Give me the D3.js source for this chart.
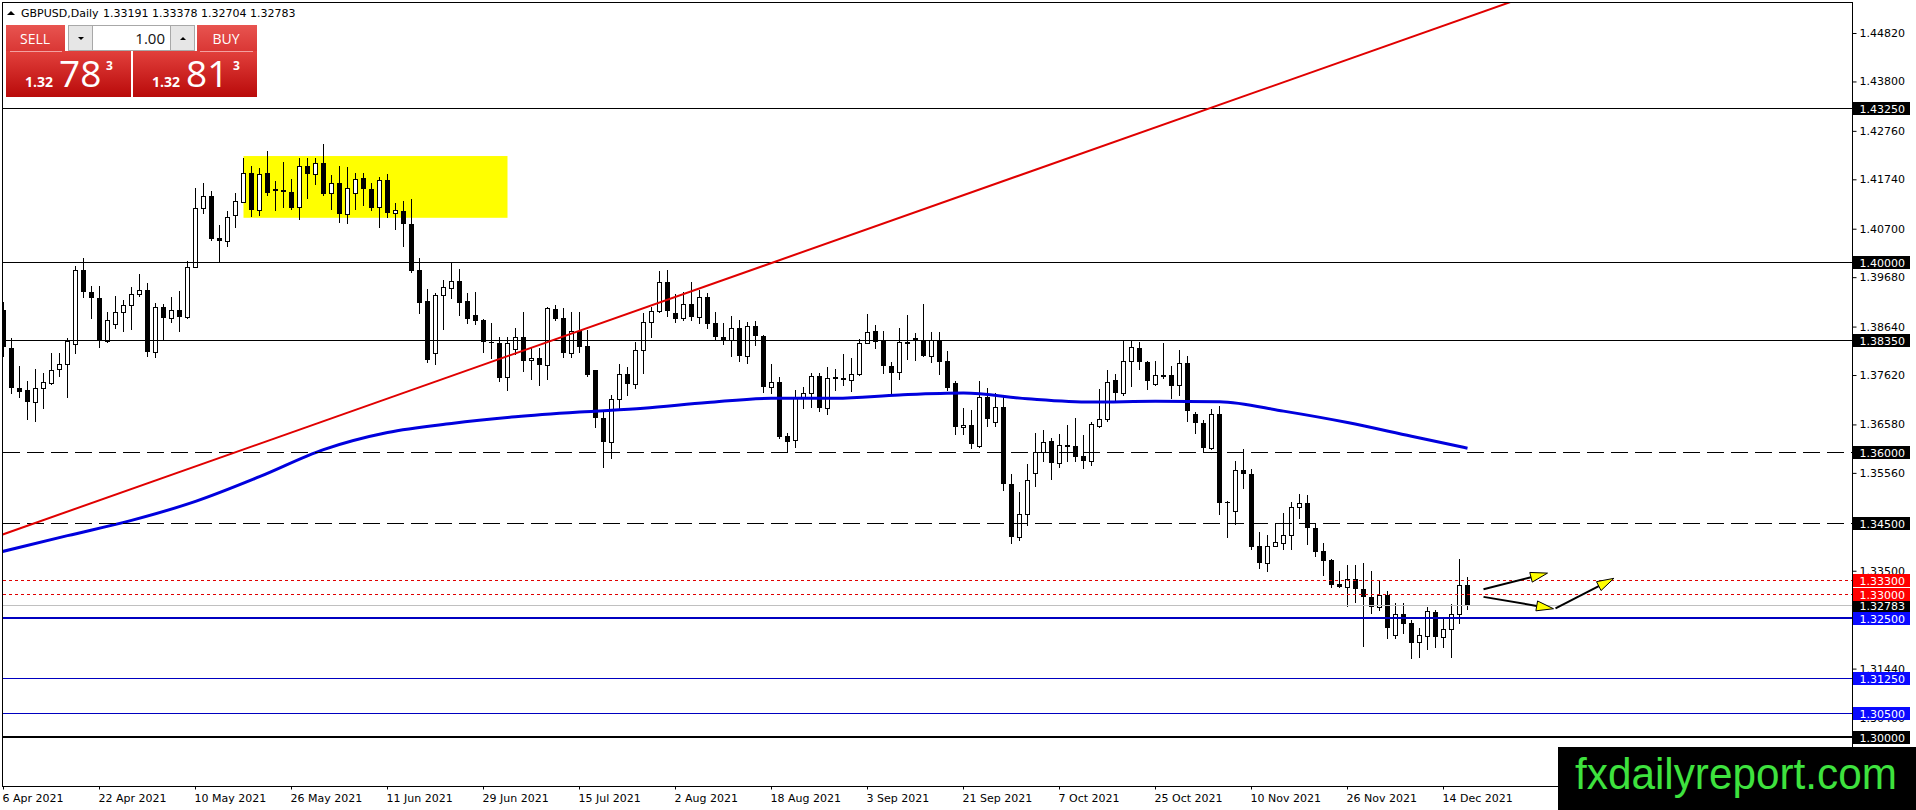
<!DOCTYPE html>
<html>
<head>
<meta charset="utf-8">
<script src="https://cdn.jsdelivr.net/npm/d3@7.9.0/dist/d3.min.js"></script>
<style>
  body { margin: 0; background: #fff; overflow: hidden; }
  svg { display: block; font-family: "DejaVu Sans", sans-serif; }
</style>
</head>
<body>
<svg id="chart" width="1916" height="810"></svg>
<script>
const symbol = "GBPUSD,Daily";

const opens = [
  1.3899, 1.3818, 1.3734, 1.3731, 1.3705, 1.3734, 1.3746, 1.3774, 1.3785, 1.3827,
  1.3983, 1.3936, 1.3924, 1.3834, 1.3869, 1.3894, 1.3909, 1.3932, 1.3940, 1.3810,
  1.3905, 1.3883, 1.3898, 1.3885, 1.3990, 1.4113, 1.4139, 1.4051, 1.4045, 1.4098,
  1.4127, 1.4187, 1.4110, 1.4187, 1.4153, 1.4152, 1.4148, 1.4115, 1.4202, 1.4185,
  1.4208, 1.4145, 1.4166, 1.4100, 1.4145, 1.4176, 1.4153, 1.4115, 1.4173, 1.4103,
  1.4107, 1.4079, 1.3983, 1.3918, 1.3808, 1.3931, 1.3945, 1.3960, 1.3918, 1.3888,
  1.3878, 1.3832, 1.3829, 1.3757, 1.3816, 1.3841, 1.3794, 1.3797, 1.3783, 1.3900,
  1.3881, 1.3808, 1.3855, 1.3823, 1.3773, 1.3671, 1.3622, 1.3711, 1.3764, 1.3743,
  1.3815, 1.3874, 1.3897, 1.3957, 1.3893, 1.3881, 1.3912, 1.3885, 1.3926, 1.3872,
  1.3841, 1.3836, 1.3860, 1.3803, 1.3865, 1.3844, 1.3737, 1.3748, 1.3634, 1.3625,
  1.3716, 1.3724, 1.3759, 1.3693, 1.3755, 1.3755, 1.3752, 1.3764, 1.3829, 1.3855,
  1.3834, 1.3781, 1.3768, 1.3832, 1.3839, 1.3836, 1.3803, 1.3836, 1.3792, 1.3745,
  1.3652, 1.3657, 1.3613, 1.3715, 1.3663, 1.3695, 1.3532, 1.3422, 1.3469, 1.3555,
  1.3601, 1.3623, 1.3577, 1.3615, 1.3613, 1.3592, 1.3582, 1.3655, 1.3669, 1.3752,
  1.3724, 1.3792, 1.3818, 1.3790, 1.3743, 1.3761, 1.3762, 1.3740, 1.3787, 1.3679,
  1.3662, 1.3609, 1.3681, 1.3495, 1.3476, 1.3562, 1.3553, 1.3402, 1.3367, 1.3403,
  1.3409, 1.3425, 1.3484, 1.3492, 1.3441, 1.3392, 1.3373, 1.3322, 1.3316, 1.3332,
  1.3311, 1.3295, 1.3274, 1.3299, 1.3215, 1.3258, 1.3239, 1.3199, 1.3213, 1.3263,
  1.3211, 1.3227, 1.3258, 1.33191
];
const highs = [
  1.3916, 1.3839, 1.3780, 1.3750, 1.3774, 1.3767, 1.3808, 1.3808, 1.3839, 1.3992,
  1.4008, 1.3949, 1.3949, 1.3894, 1.3928, 1.3920, 1.3948, 1.3974, 1.3955, 1.3913,
  1.3911, 1.3926, 1.3939, 1.4003, 1.4156, 1.4166, 1.4150, 1.4078, 1.4108, 1.4145,
  1.4218, 1.4201, 1.4197, 1.4234, 1.4171, 1.4211, 1.4174, 1.4218, 1.4218, 1.4218,
  1.4248, 1.4183, 1.4202, 1.4199, 1.4188, 1.4187, 1.4166, 1.4178, 1.4185, 1.4124,
  1.4128, 1.4132, 1.4009, 1.3943, 1.3934, 1.3962, 1.3999, 1.3985, 1.3934, 1.3937,
  1.3879, 1.3872, 1.3843, 1.3843, 1.3860, 1.3895, 1.3818, 1.3818, 1.3906, 1.3909,
  1.3904, 1.3895, 1.3895, 1.3857, 1.3773, 1.3687, 1.3721, 1.3785, 1.3778, 1.3832,
  1.3892, 1.3906, 1.3981, 1.3983, 1.3932, 1.3936, 1.3957, 1.3941, 1.3934, 1.3894,
  1.3871, 1.3886, 1.3878, 1.3874, 1.3876, 1.3846, 1.3785, 1.3757, 1.3639, 1.3731,
  1.3737, 1.3767, 1.3767, 1.3778, 1.3775, 1.3806, 1.3797, 1.3837, 1.3890, 1.3867,
  1.3855, 1.3789, 1.3860, 1.3888, 1.3851, 1.3912, 1.3852, 1.3852, 1.3813, 1.3750,
  1.3693, 1.3688, 1.3750, 1.3734, 1.3724, 1.3720, 1.3554, 1.3516, 1.3575, 1.3639,
  1.3646, 1.3629, 1.3637, 1.3657, 1.3671, 1.3636, 1.3664, 1.3732, 1.3773, 1.3764,
  1.3836, 1.3836, 1.3832, 1.3792, 1.3792, 1.3830, 1.3781, 1.3815, 1.3802, 1.3685,
  1.3667, 1.3690, 1.3697, 1.3497, 1.3580, 1.3606, 1.3564, 1.3431, 1.3425, 1.3450,
  1.3471, 1.3494, 1.3511, 1.3509, 1.3451, 1.3408, 1.3375, 1.3350, 1.3362, 1.3362,
  1.3367, 1.3349, 1.3331, 1.3308, 1.3283, 1.3283, 1.3246, 1.3229, 1.3274, 1.3267,
  1.3252, 1.3280, 1.3375, 1.33378
];
const lows = [
  1.3801, 1.3724, 1.3716, 1.3669, 1.3666, 1.3692, 1.3743, 1.3759, 1.3715, 1.3809,
  1.3926, 1.3883, 1.3822, 1.3832, 1.3862, 1.3855, 1.3859, 1.3929, 1.3801, 1.3799,
  1.3836, 1.3874, 1.3855, 1.3883, 1.3990, 1.4103, 1.4047, 1.4003, 1.4034, 1.4074,
  1.4127, 1.4097, 1.4099, 1.4141, 1.4110, 1.4115, 1.4111, 1.4090, 1.4134, 1.4164,
  1.4141, 1.4111, 1.4085, 1.4081, 1.4111, 1.4120, 1.4109, 1.4073, 1.4094, 1.4069,
  1.4034, 1.3979, 1.3893, 1.3789, 1.3785, 1.3858, 1.3924, 1.3888, 1.3871, 1.3869,
  1.3811, 1.3797, 1.3749, 1.3731, 1.3806, 1.3771, 1.3754, 1.3741, 1.3754, 1.3878,
  1.3799, 1.3799, 1.3811, 1.3759, 1.3653, 1.3569, 1.3588, 1.3690, 1.3720, 1.3734,
  1.3766, 1.3843, 1.3895, 1.3887, 1.3874, 1.3878, 1.3878, 1.3871, 1.3860, 1.3838,
  1.3827, 1.3801, 1.3792, 1.3788, 1.3825, 1.3727, 1.3725, 1.3629, 1.3599, 1.3611,
  1.3692, 1.3695, 1.3687, 1.3679, 1.3731, 1.3740, 1.3729, 1.3763, 1.3829, 1.3818,
  1.3766, 1.3724, 1.3753, 1.3795, 1.3794, 1.3801, 1.3790, 1.3764, 1.3731, 1.3638,
  1.3638, 1.3608, 1.3611, 1.3655, 1.3655, 1.3519, 1.3409, 1.3415, 1.3446, 1.3529,
  1.3581, 1.3543, 1.3569, 1.3581, 1.3580, 1.3567, 1.3573, 1.3652, 1.3666, 1.3709,
  1.3719, 1.3739, 1.3774, 1.3733, 1.3740, 1.3755, 1.3713, 1.3720, 1.3666, 1.3641,
  1.3602, 1.3606, 1.3469, 1.3422, 1.3448, 1.3524, 1.3396, 1.3356, 1.3350, 1.3403,
  1.3395, 1.3395, 1.3462, 1.3406, 1.3382, 1.3340, 1.3316, 1.3315, 1.3276, 1.3285,
  1.3192, 1.3260, 1.3267, 1.3208, 1.3208, 1.3218, 1.3167, 1.3169, 1.3185, 1.3190,
  1.3189, 1.3169, 1.3240, 1.32704
];
const closes = [
  1.3822, 1.3734, 1.3727, 1.3705, 1.3734, 1.3747, 1.3773, 1.3785, 1.3834, 1.3983,
  1.3936, 1.3924, 1.3836, 1.3877, 1.3894, 1.3909, 1.3932, 1.3940, 1.3811, 1.3905,
  1.3883, 1.3898, 1.3885, 1.3989, 1.4113, 1.4138, 1.4048, 1.4045, 1.4094, 1.4129,
  1.4187, 1.4110, 1.4185, 1.4146, 1.4150, 1.4147, 1.4113, 1.4202, 1.4185, 1.4208,
  1.4143, 1.4166, 1.4100, 1.4155, 1.4174, 1.4153, 1.4114, 1.4173, 1.4103, 1.4109,
  1.4079, 1.3981, 1.3914, 1.3794, 1.3931, 1.3947, 1.3959, 1.3914, 1.3879, 1.3876,
  1.3831, 1.3829, 1.3756, 1.3829, 1.3841, 1.3792, 1.3797, 1.3783, 1.3903, 1.3879,
  1.3808, 1.3855, 1.3822, 1.3761, 1.3671, 1.3622, 1.3711, 1.3764, 1.3743, 1.3815,
  1.3873, 1.3897, 1.3957, 1.3897, 1.3880, 1.3912, 1.3885, 1.3926, 1.3869, 1.3841,
  1.3836, 1.3860, 1.3803, 1.3865, 1.3844, 1.3737, 1.3748, 1.3632, 1.3620, 1.3716,
  1.3724, 1.3759, 1.3693, 1.3756, 1.3757, 1.3752, 1.3764, 1.3829, 1.3853, 1.3832,
  1.3780, 1.3767, 1.3831, 1.3827, 1.3836, 1.3802, 1.3836, 1.3790, 1.3734, 1.3652,
  1.3656, 1.3616, 1.3715, 1.3669, 1.3695, 1.3532, 1.3422, 1.3469, 1.3541, 1.3601,
  1.3622, 1.3577, 1.3615, 1.3611, 1.3590, 1.3581, 1.3659, 1.3669, 1.3747, 1.3724,
  1.3792, 1.3820, 1.3789, 1.3750, 1.3761, 1.3762, 1.3739, 1.3787, 1.3687, 1.3660,
  1.3609, 1.3681, 1.3493, 1.3493, 1.3562, 1.3553, 1.3401, 1.3367, 1.3402, 1.3410,
  1.3425, 1.3484, 1.3492, 1.3439, 1.3390, 1.3371, 1.3321, 1.3316, 1.3332, 1.3311,
  1.3295, 1.3274, 1.3299, 1.3229, 1.3258, 1.3238, 1.3197, 1.3215, 1.3265, 1.3211,
  1.3227, 1.3258, 1.3319, 1.32783
];

// moving average
const maBars = [-1, 8, 16, 24, 32, 40, 48, 56, 64, 72, 80, 88, 96, 104, 112, 120, 128, 136, 144, 152, 160, 168, 176, 183];
const maValues = [1.3387, 1.3424, 1.3456, 1.3496, 1.3548, 1.3605, 1.3641, 1.3660, 1.3674, 1.3684, 1.3692, 1.3704,
  1.3713, 1.3713, 1.3720, 1.3724, 1.3712, 1.3705, 1.3707, 1.3706, 1.3686, 1.3662, 1.3633, 1.3608];

const tickBars = [0, 12, 24, 36, 48, 60, 72, 84, 96, 108, 120, 132, 144, 156, 168, 180];
const tickLabels = ["6 Apr 2021", "22 Apr 2021", "10 May 2021", "26 May 2021", "11 Jun 2021", "29 Jun 2021",
  "15 Jul 2021", "2 Aug 2021", "18 Aug 2021", "3 Sep 2021", "21 Sep 2021", "7 Oct 2021", "25 Oct 2021",
  "10 Nov 2021", "26 Nov 2021", "14 Dec 2021"];
const priceTicks = [1.4482, 1.4380, 1.4276, 1.4174, 1.4070, 1.3968, 1.3864, 1.3762, 1.3658, 1.3556,
  1.3452, 1.3350, 1.3246, 1.3144, 1.3040];

const blackLevels = [1.4325, 1.4000, 1.3835];
const dashedLevels = [1.3600, 1.3450];
const redLevels = [1.3330, 1.3300];
const blueLevels = [1.3250, 1.3125, 1.3050];
const floorLevel = 1.3000;

const zoneBars = [30, 63];
const zonePrices = [1.4093, 1.4223];
const trendBars = [0, 150];
const trendPrices = [1.3427, 1.4319];
const arrowFrom = [[185, 1.3311], [185, 1.3295], [194, 1.3271]];
const arrowTo = [[193, 1.3345], [193.75, 1.3270], [201.3, 1.3334]];

const bid = 1.32783;
const ask = 1.32813;
const lotSize = "1.00";

const svg = d3.select("#chart");
const plotRight = 1852.5, plotBottom = 786.5;

const x = d3.scaleLinear().domain([0, 230.5]).range([3.5, 1847.5]);
const y = d3.scaleLinear().domain([1.30, 1.4482]).range([737, 33]);
const crisp = v => Math.round(y(v)) + 0.5;

const defs = svg.append("defs");
defs.append("clipPath").attr("id", "plot")
  .append("rect").attr("x", 3).attr("y", 3).attr("width", 1849).attr("height", 783);

function gradient(id, top, bottom) {
  let g = defs.append("linearGradient").attr("id", id).attr("x1", 0).attr("y1", 0).attr("x2", 0).attr("y2", 1);
  g.append("stop").attr("offset", 0).attr("stop-color", top);
  g.append("stop").attr("offset", 1).attr("stop-color", bottom);
}
gradient("btnTop", "#e85450", "#d93634");
gradient("btnLow", "#e2403c", "#b90a0a");

const plot = svg.append("g").attr("clip-path", "url(#plot)");

// yellow zone
plot.append("rect")
  .attr("x", x(zoneBars[0])).attr("y", y(zonePrices[1]))
  .attr("width", x(zoneBars[1]) - x(zoneBars[0]))
  .attr("height", y(zonePrices[0]) - y(zonePrices[1]))
  .attr("fill", "#ffff00");

// candles
const bars = d3.range(opens.length).map(i => ({ i, o: opens[i], h: highs[i], l: lows[i], c: closes[i] }));
const candle = plot.append("g").selectAll("g").data(bars).join("g");
candle.append("line")
  .attr("x1", d => x(d.i)).attr("x2", d => x(d.i))
  .attr("y1", d => Math.round(y(d.h))).attr("y2", d => Math.round(y(d.l)) + 1)
  .attr("stroke", "#000");
candle.append("rect")
  .attr("x", d => d.c > d.o ? x(d.i) - 2 : x(d.i) - 2.5)
  .attr("y", d => {
    let t = Math.round(y(Math.max(d.o, d.c)));
    return d.c > d.o ? t + 0.5 : t;
  })
  .attr("width", d => d.c > d.o ? 4 : 5)
  .attr("height", d => Math.max(1, Math.round(y(Math.min(d.o, d.c))) - Math.round(y(Math.max(d.o, d.c)))))
  .attr("fill", d => d.c > d.o ? "#fff" : "#000")
  .attr("stroke", d => d.c > d.o ? "#000" : "none");

// moving average
plot.append("path")
  .datum(maBars.map((b, i) => [b, maValues[i]]))
  .attr("d", d3.line().x(d => x(d[0])).y(d => y(d[1])).curve(d3.curveMonotoneX))
  .attr("fill", "none").attr("stroke", "#0000dd").attr("stroke-width", 3);

// horizontal levels
function hline(p, color, width, dash) {
  let yy = width % 2 ? crisp(p) : Math.round(y(p));
  plot.append("line").attr("x1", 3).attr("x2", plotRight).attr("y1", yy).attr("y2", yy)
    .attr("stroke", color).attr("stroke-width", width)
    .attr("stroke-dasharray", dash);
}
hline(bid, "#c0c0c0", 1, null);
blackLevels.forEach(p => hline(p, "#000", 1, null));
dashedLevels.forEach(p => hline(p, "#000", 1, "17,7"));
redLevels.forEach(p => hline(p, "#e00000", 1, "3,3"));
blueLevels.forEach((p, i) => hline(p, "#0000c0", i === 0 ? 2 : 1, null));
hline(floorLevel, "#000", 2, null);

// trend line (ray)
const slope = (trendPrices[1] - trendPrices[0]) / (trendBars[1] - trendBars[0]);
plot.append("line")
  .attr("x1", x(-2)).attr("y1", y(trendPrices[0] - 2 * slope))
  .attr("x2", x(230.5)).attr("y2", y(trendPrices[0] + slope * (230.5 - trendBars[0])))
  .attr("stroke", "#e00000").attr("stroke-width", 2);

// arrows
arrowFrom.forEach((a, i) => {
  let x1 = x(a[0]), y1 = y(a[1]), x2 = x(arrowTo[i][0]), y2 = y(arrowTo[i][1]);
  let ang = Math.atan2(y2 - y1, x2 - x1);
  let len = 17, half = 5;
  let bx = x2 - len * Math.cos(ang), by = y2 - len * Math.sin(ang);
  plot.append("line").attr("x1", x1).attr("y1", y1).attr("x2", bx).attr("y2", by)
    .attr("stroke", "#000").attr("stroke-width", 2);
  let pts = [[x2, y2],
    [bx + half * Math.sin(ang), by - half * Math.cos(ang)],
    [bx - half * Math.sin(ang), by + half * Math.cos(ang)]];
  plot.append("path").attr("d", "M" + pts.join("L") + "Z")
    .attr("fill", "#ffff00").attr("stroke", "#000").attr("stroke-width", 1);
});

// frame
svg.append("rect").attr("x", 2.5).attr("y", 2.5).attr("width", plotRight - 2.5).attr("height", plotBottom - 2.5)
  .attr("fill", "none").attr("stroke", "#000");

// price axis
svg.append("g").attr("transform", `translate(${plotRight},0)`)
  .call(d3.axisRight(y).tickValues(priceTicks).tickFormat(d3.format(".5f")).tickSize(4).tickPadding(3))
  .call(g => g.select(".domain").remove())
  .attr("font-size", 11).attr("font-family", "DejaVu Sans, sans-serif")
  .selectAll("text").attr("fill", "#000");

// time axis
svg.append("g").attr("transform", `translate(0,${plotBottom})`)
  .call(d3.axisBottom(x).tickValues(tickBars).tickFormat((d, i) => tickLabels[i]).tickSize(3).offset(0))
  .call(g => g.select(".domain").remove())
  .attr("font-size", 11).attr("font-family", "DejaVu Sans, sans-serif")
  .selectAll("text").attr("text-anchor", "start").attr("x", -1).attr("y", 15.5).attr("dy", null).attr("fill", "#000");

// price labels on the axis
function priceBox(p, color) {
  let yy = crisp(p);
  svg.append("rect").attr("x", 1853).attr("y", yy - 6.5).attr("width", 57).attr("height", 13).attr("fill", color);
  svg.append("text").attr("x", 1859.5).attr("y", yy + 4).attr("font-size", 11)
    .attr("fill", "#fff").text(p.toFixed(5));
}
priceBox(bid, "#000");
blackLevels.forEach(p => priceBox(p, "#000"));
dashedLevels.forEach(p => priceBox(p, "#000"));
redLevels.forEach(p => priceBox(p, "#ff0000"));
blueLevels.forEach(p => priceBox(p, "#0a0aff"));
priceBox(floorLevel, "#000");

// header
svg.append("path").attr("d", "M7,15L15,15L11,11Z").attr("fill", "#000");
svg.append("text").attr("x", 21).attr("y", 17).attr("font-size", 11).text(symbol);
svg.append("text").attr("x", 103).attr("y", 17).attr("font-size", 11)
  .text([opens, highs, lows, closes].map(a => a[a.length - 1].toFixed(5)).join(" "));

// one click trading panel
const panel = svg.append("g").attr("font-family", "'Open Sans', sans-serif");
panel.append("rect").attr("x", 6).attr("y", 25).attr("width", 59).attr("height", 27).attr("fill", "url(#btnTop)");
panel.append("rect").attr("x", 197).attr("y", 25).attr("width", 60).attr("height", 27).attr("fill", "url(#btnTop)");
panel.append("rect").attr("x", 6).attr("y", 51).attr("width", 125).attr("height", 46).attr("fill", "url(#btnLow)");
panel.append("rect").attr("x", 133).attr("y", 51).attr("width", 124).attr("height", 46).attr("fill", "url(#btnLow)");
panel.append("line").attr("x1", 10).attr("x2", 62).attr("y1", 51.5).attr("y2", 51.5).attr("stroke", "#f3a0a0");
panel.append("line").attr("x1", 200).attr("x2", 253).attr("y1", 51.5).attr("y2", 51.5).attr("stroke", "#f3a0a0");
panel.append("rect").attr("x", 68.5).attr("y", 25.5).attr("width", 126).attr("height", 25)
  .attr("fill", "#fff").attr("stroke", "#a8a8a8");
panel.append("rect").attr("x", 68.5).attr("y", 25.5).attr("width", 24).attr("height", 25)
  .attr("fill", "#e6e6e6").attr("stroke", "#a8a8a8");
panel.append("rect").attr("x", 170.5).attr("y", 25.5).attr("width", 24).attr("height", 25)
  .attr("fill", "#e6e6e6").attr("stroke", "#a8a8a8");
panel.append("path").attr("d", "M78,37L84,37L81,40Z").attr("fill", "#000");
panel.append("path").attr("d", "M180,40L186,40L183,37Z").attr("fill", "#000");
panel.append("text").attr("x", 165).attr("y", 44).attr("text-anchor", "end").attr("font-size", 15)
  .attr("fill", "#111").text(lotSize);
panel.append("text").attr("x", 35).attr("y", 44).attr("text-anchor", "middle").attr("font-size", 14)
  .attr("fill", "#fff").text("SELL");
panel.append("text").attr("x", 226).attr("y", 44).attr("text-anchor", "middle").attr("font-size", 14)
  .attr("fill", "#fff").text("BUY");

function quote(p, x0) {
  let s = p.toFixed(5);
  panel.append("text").attr("x", x0).attr("y", 87).attr("font-size", 14).attr("font-weight", "bold")
    .attr("fill", "#fff").text(s.slice(0, 4));
  panel.append("text").attr("x", x0 + 34).attr("y", 87).attr("font-size", 37)
    .attr("fill", "#fff").text(s.slice(4, 6));
  panel.append("text").attr("x", x0 + 81).attr("y", 70).attr("font-size", 12).attr("font-weight", "bold")
    .attr("fill", "#fff").text(s.slice(6));
}
quote(bid, 25);
quote(ask, 152);

// watermark
svg.append("rect").attr("x", 1558).attr("y", 747).attr("width", 358).attr("height", 63).attr("fill", "#000");
svg.append("text").attr("x", 1575).attr("y", 789)
  .attr("font-family", "'Liberation Sans', Arial, sans-serif").attr("font-size", 45)
  .attr("textLength", 322).attr("lengthAdjust", "spacingAndGlyphs")
  .attr("fill", "#3ee23e").text("fxdailyreport.com");
</script>
</body>
</html>
